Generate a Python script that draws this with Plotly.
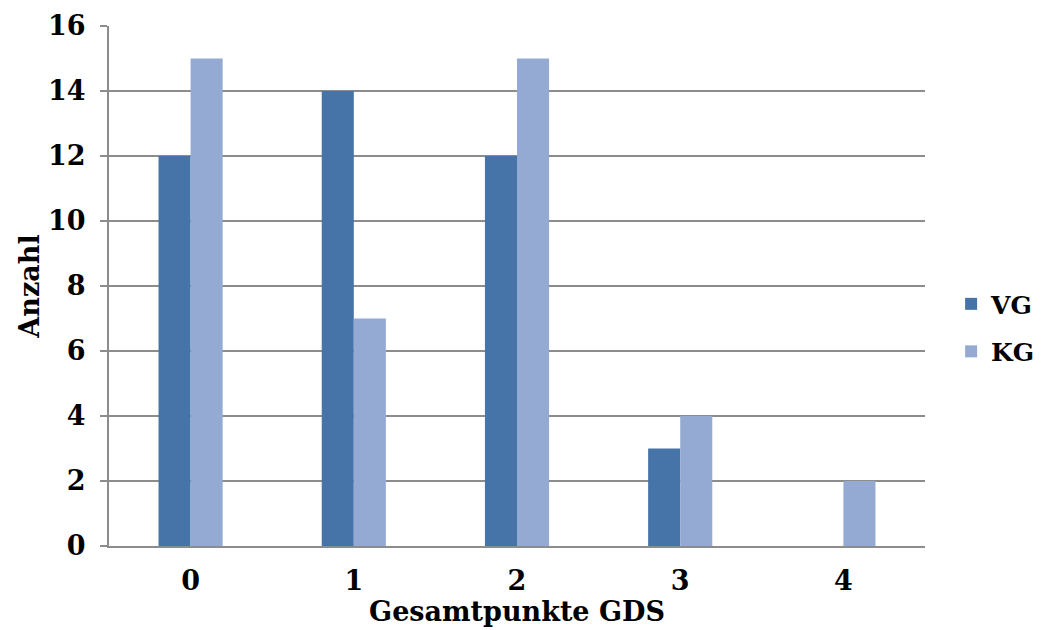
import plotly.graph_objects as go

categories = ["0", "1", "2", "3", "4"]
vg_values = [12, 14, 12, 3, 0]
kg_values = [15, 7, 15, 4, 2]
y_ticks = [0, 2, 4, 6, 8, 10, 12, 14, 16]

FONT = "DejaVu Serif"
GRID = "#8c8c8c"
SIZE = 27

fig = go.Figure()
fig.add_trace(go.Bar(name="VG", x=categories, y=vg_values, marker_color="#4674A9",
                     marker_line_width=0, legendgroup="vg"))
fig.add_trace(go.Bar(name="KG", x=categories, y=kg_values, marker_color="#95AAD2",
                     marker_line_width=0, legendgroup="kg"))

fig.update_layout(
    width=1043, height=630,
    margin=dict(l=109, r=118, t=26, b=84, autoexpand=False),
    paper_bgcolor="white", plot_bgcolor="white",
    barmode="group", bargap=0.607, bargroupgap=0,
    font=dict(family=FONT, size=SIZE, color="black", weight="bold"),
    legend=dict(x=1.032, y=0.42, xanchor="left", yanchor="middle",
                font=dict(family=FONT, size=25, color="black", weight="bold"),
                itemwidth=30, tracegroupgap=12),
    xaxis=dict(
        title=dict(text="Gesamtpunkte GDS",
                   font=dict(family=FONT, size=SIZE, weight="bold"), standoff=3),
        tickfont=dict(family=FONT, size=SIZE, weight="bold"),
        ticklabelstandoff=10,
        showline=True, linecolor=GRID, linewidth=2,
        ticks="", showgrid=False,
    ),
    yaxis=dict(
        title=dict(text="Anzahl",
                   font=dict(family=FONT, size=SIZE, weight="bold"), standoff=1),
        range=[0, 16], tickvals=y_ticks,
        tickfont=dict(family=FONT, size=SIZE, weight="bold"),
        ticklabelstandoff=9,
        showline=True, linecolor=GRID, linewidth=2,
        ticks="outside", ticklen=7, tickcolor=GRID, tickwidth=2,
        showgrid=True, gridcolor=GRID, gridwidth=2,
        zeroline=False,
    ),
)

fig.write_html("out.html")
